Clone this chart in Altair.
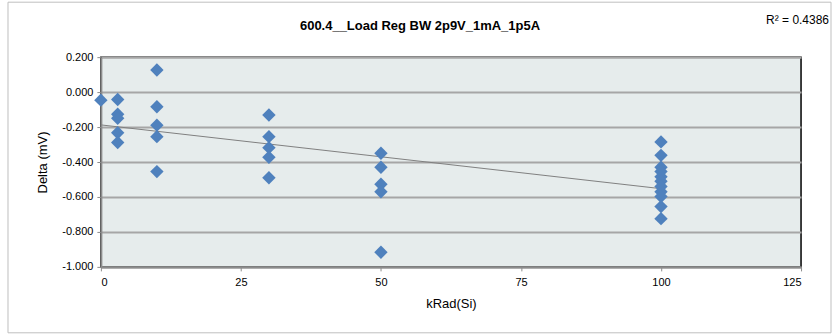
import altair as alt
import pandas as pd

# Total dose steps (kRad(Si)) and the measured load-regulation delta (mV)
krad = [0,
        3, 3, 3, 3, 3,
        10, 10, 10, 10, 10,
        30, 30, 30, 30, 30,
        50, 50, 50, 50, 50,
        100, 100, 100, 100, 100, 100, 100, 100, 100, 100, 100]
delta = [-0.046,
         -0.042, -0.127, -0.150, -0.233, -0.288,
         0.126, -0.084, -0.189, -0.255, -0.455,
         -0.131, -0.255, -0.318, -0.373, -0.490,
         -0.350, -0.430, -0.527, -0.570, -0.916,
         -0.285, -0.362, -0.430, -0.455, -0.484, -0.510, -0.540, -0.570, -0.598, -0.655, -0.724]

x_ticks = [0, 25, 50, 75, 100, 125]
y_ticks = [0.2, 0.0, -0.2, -0.4, -0.6, -0.8, -1.0]
title_text = "600.4__Load Reg BW 2p9V_1mA_1p5A"
r2_label = "R² = 0.4386"

df = pd.DataFrame({"krad": krad, "delta": delta})

FONT = "Liberation Sans, Arial"

x_enc = alt.X("krad:Q", title="kRad(Si)",
              scale=alt.Scale(domain=[0, 125], nice=False),
              axis=alt.Axis(values=x_ticks, tickCount=len(x_ticks), grid=False,
                            format="d", labelOverlap=False))
y_enc = alt.Y("delta:Q", title="Delta (mV)",
              scale=alt.Scale(domain=[-1.0, 0.2], nice=False),
              axis=alt.Axis(values=y_ticks, tickCount=len(y_ticks), grid=True,
                            labelOverlap=False,
                            labelExpr="replace(format(datum.value, '.3f'), '\u2212', '-')"))

base = alt.Chart(df)

points = base.mark_point(shape="diamond", filled=True, size=180,
                         color="#4F81BD", opacity=1).encode(x=x_enc, y=y_enc)

trend = base.transform_regression("krad", "delta").mark_line(
    color="#7F7F7F", strokeWidth=1).encode(x="krad:Q", y="delta:Q")

r2 = alt.Chart(pd.DataFrame({"t": [r2_label]})).mark_text(
    align="right", baseline="middle", fontSize=12, font=FONT, color="#000000"
).encode(x=alt.value(729), y=alt.value(-37), text="t:N")

# outer chart-area border
frame = alt.Chart(pd.DataFrame({"a": [0]})).mark_rect(
    fill=None, stroke="#BFBFBF", strokeWidth=1
).encode(x=alt.value(-93), x2=alt.value(731), y=alt.value(-55), y2=alt.value(276))

chart = alt.layer(frame, trend, points, r2).properties(
    width=701, height=210,
    padding={"left": 101, "top": 57, "right": 33, "bottom": 68},
    autosize=alt.AutoSizeParams(type="none"),
    title=alt.TitleParams(title_text, anchor="middle", dx=-31, offset=0, dy=44,
                          baseline="bottom",
                          fontSize=13, font=FONT, fontWeight="bold", color="#000000"),
    background="white",
).configure_view(
    fill="#E6ECEC", stroke="#000000", strokeWidth=1.5
).configure_axis(
    labelFont=FONT, titleFont=FONT, labelColor="#000000", titleColor="#000000",
    labelFontSize=11, titleFontSize=13, titleFontWeight="normal",
    domainColor="#8C8C8C", domainWidth=2,
    tickColor="#8C8C8C", tickSize=4, tickWidth=1,
    gridColor="#A6A6A6", gridWidth=2,
).configure_axisX(
    labelPadding=6, titlePadding=10
).configure_axisY(
    labelPadding=4, titlePadding=12
)

chart.save("out.html", embed_options={"renderer": "svg", "actions": False})
